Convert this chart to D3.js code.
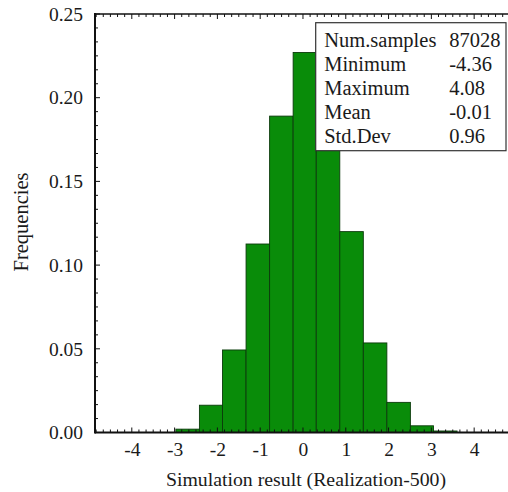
<!DOCTYPE html>
<html>
<head>
<meta charset="utf-8">
<script src="https://cdn.jsdelivr.net/npm/d3@7"></script>
<style>
  html, body { margin: 0; padding: 0; background: #ffffff; }
  svg { display: block; }
  text { font-family: "Liberation Serif", "Times New Roman", serif; fill: #1a1a1a; }
</style>
</head>
<body>
<svg id="chart" width="508" height="492"></svg>
<script>
// ---- data ----
const binEdges = [-2.97, -2.42, -1.88, -1.33, -0.78, -0.23, 0.31, 0.86, 1.41, 1.96, 2.51, 3.05, 3.60];
const frequencies = [0.002, 0.0163, 0.0493, 0.1126, 0.189, 0.227, 0.19, 0.12, 0.0535, 0.018, 0.004, 0.0009];
const xTickValues = [-4, -3, -2, -1, 0, 1, 2, 3, 4];
const yTickValues = [0.00, 0.05, 0.10, 0.15, 0.20, 0.25];
const statLabels = ["Num.samples", "Minimum", "Maximum", "Mean", "Std.Dev"];
const statValues = ["87028", "-4.36", "4.08", "-0.01", "0.96"];
const xTitle = "Simulation result (Realization-500)";
const yTitle = "Frequencies";

// ---- layout ----
const svg = d3.select("#chart");
const plot = { left: 95, right: 508.4, top: 14, bottom: 432.5 };

const x = d3.scaleLinear().domain([-4.86, 4.8]).range([plot.left, plot.right]);
const y = d3.scaleLinear().domain([0, 0.25]).range([plot.bottom, plot.top]);

const bins = frequencies.map((f, i) => ({ x0: binEdges[i], x1: binEdges[i + 1], f }));

// bars
svg.append("g").selectAll("rect").data(bins).join("rect")
  .attr("x", d => x(d.x0))
  .attr("y", d => y(d.f))
  .attr("width", d => x(d.x1) - x(d.x0))
  .attr("height", d => y(0) - y(d.f))
  .attr("fill", "#098c09")
  .attr("stroke", "#0c3a0c")
  .attr("stroke-width", 0.9);

// minor tick values
const xMinor = d3.range(-29, 29).map(k => k / 6).filter(v => v >= -4.86 && v <= 4.8);
const yMinor = d3.range(0, 31).map(k => k * 0.05 / 6);

// bottom axis
const bottomAxis = d3.axisBottom(x).tickValues(xTickValues).tickSize(0).tickPadding(10)
  .tickFormat(d => String(d));
const gB = svg.append("g").attr("transform", `translate(0,${plot.bottom})`).call(bottomAxis);
gB.select(".domain").remove();
gB.selectAll("text").attr("font-size", 19.5).attr("font-family", "Liberation Serif").attr("fill", "#1a1a1a");

const ticksG = svg.append("g").attr("stroke", "#111");
// bottom minor/major ticks (inward)
ticksG.selectAll(".bt").data(xMinor).join("line")
  .attr("x1", d => x(d)).attr("x2", d => x(d))
  .attr("y1", plot.bottom).attr("y2", d => plot.bottom - (Math.abs(d - Math.round(d)) < 1e-6 ? 5 : 3))
  .attr("stroke-width", 1);
// top ticks (inward)
ticksG.selectAll(".tt").data(xMinor).join("line")
  .attr("x1", d => x(d)).attr("x2", d => x(d))
  .attr("y1", plot.top).attr("y2", d => plot.top + (Math.abs(d - Math.round(d)) < 1e-6 ? 5 : 3))
  .attr("stroke-width", 1);
// left ticks (inward)
ticksG.selectAll(".lt").data(yMinor).join("line")
  .attr("y1", d => y(d)).attr("y2", d => y(d))
  .attr("x1", plot.left).attr("x2", (d, i) => plot.left + (i % 6 === 0 ? 5 : 3))
  .attr("stroke-width", 1);

// left axis labels
const leftAxis = d3.axisLeft(y).tickValues(yTickValues).tickSize(0).tickPadding(12)
  .tickFormat(d3.format(".2f"));
const gL = svg.append("g").attr("transform", `translate(${plot.left},0)`).call(leftAxis);
gL.select(".domain").remove();
gL.selectAll("text").attr("font-size", 19.5).attr("font-family", "Liberation Serif").attr("fill", "#1a1a1a");

// frame lines
svg.append("line").attr("x1", plot.left).attr("x2", plot.right).attr("y1", plot.bottom).attr("y2", plot.bottom)
  .attr("stroke", "#111").attr("stroke-width", 2);
svg.append("line").attr("x1", plot.left).attr("x2", plot.right).attr("y1", plot.top).attr("y2", plot.top)
  .attr("stroke", "#111").attr("stroke-width", 1.5);
svg.append("line").attr("x1", plot.left).attr("x2", plot.left).attr("y1", plot.top - 1).attr("y2", plot.bottom + 1)
  .attr("stroke", "#111").attr("stroke-width", 2);

// titles
svg.append("text").attr("x", 306).attr("y", 486).attr("text-anchor", "middle")
  .attr("font-size", 19.8).text(xTitle);
svg.append("text").attr("transform", "translate(28,222) rotate(-90)").attr("text-anchor", "middle")
  .attr("font-size", 20.5).text(yTitle);

// stats box
const box = { x: 315.7, y: 22.7, w: 190.3, h: 128 };
const gBox = svg.append("g");
gBox.append("rect").attr("x", box.x).attr("y", box.y).attr("width", box.w).attr("height", box.h)
  .attr("fill", "#ffffff").attr("stroke", "#333").attr("stroke-width", 1.2);
gBox.selectAll(".sl").data(statLabels).join("text")
  .attr("x", box.x + 8.5).attr("y", (d, i) => box.y + 24 + i * 24)
  .attr("font-size", 20.5).text(d => d);
gBox.selectAll(".sv").data(statValues).join("text")
  .attr("x", box.x + 133.5).attr("y", (d, i) => box.y + 24 + i * 24)
  .attr("font-size", 20.5).text(d => d);
</script>
</body>
</html>
